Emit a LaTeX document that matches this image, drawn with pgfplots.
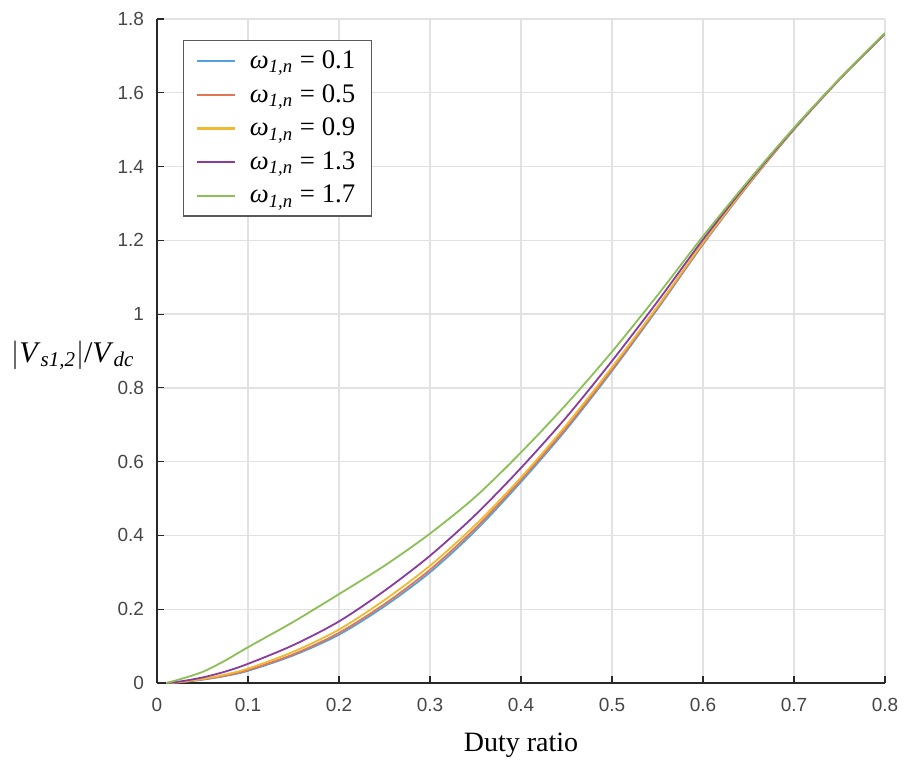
\documentclass[border=0pt]{standalone}
\usepackage{fontspec}
\setmainfont{Liberation Serif}
\setsansfont{Liberation Sans}
\usepackage{pgfplots}
\pgfplotsset{compat=1.18}
\usepackage{pgfplotstable}

\definecolor{cA}{RGB}{85,160,222}
\definecolor{cB}{RGB}{226,118,82}
\definecolor{cC}{RGB}{240,185,50}
\definecolor{cD}{RGB}{138,60,158}
\definecolor{cE}{RGB}{138,192,85}
\definecolor{gridc}{RGB}{226,226,226}
\definecolor{axc}{RGB}{40,40,40}
\definecolor{tickc}{RGB}{70,70,70}

% duty ratio vs. normalised fundamental voltage, one table per frequency
\pgfplotstableread{
d     v
0.01  0
0.025 0.002
0.05  0.009
0.075 0.019
0.1   0.033
0.15  0.075
0.2   0.131
0.25  0.208
0.3   0.300
0.35  0.413
0.4   0.545
0.45  0.688
0.5   0.846
0.55  1.014
0.6   1.189
0.65  1.351
0.7   1.500
0.75  1.636
0.8   1.760
}\wA
\pgfplotstableread{
d     v
0.01  0
0.025 0.002
0.05  0.010
0.075 0.020
0.1   0.035
0.15  0.078
0.2   0.136
0.25  0.214
0.3   0.307
0.35  0.420
0.4   0.551
0.45  0.693
0.5   0.850
0.55  1.017
0.6   1.191
0.65  1.352
0.7   1.501
0.75  1.636
0.8   1.760
}\wB
\pgfplotstableread{
d     v
0.01  0
0.025 0.003
0.05  0.011
0.075 0.023
0.1   0.039
0.15  0.085
0.2   0.145
0.25  0.225
0.3   0.318
0.35  0.429
0.4   0.557
0.45  0.700
0.5   0.856
0.55  1.021
0.6   1.194
0.65  1.354
0.7   1.502
0.75  1.637
0.8   1.760
}\wC
\pgfplotstableread{
d     v
0.01  0
0.025 0.004
0.05  0.015
0.075 0.031
0.1   0.052
0.15  0.103
0.2   0.167
0.25  0.250
0.3   0.345
0.35  0.456
0.4   0.583
0.45  0.721
0.5   0.873
0.55  1.034
0.6   1.202
0.65  1.358
0.7   1.503
0.75  1.637
0.8   1.760
}\wD
\pgfplotstableread{
d     v
0.01  0
0.025 0.010
0.05  0.030
0.075 0.061
0.1   0.097
0.15  0.166
0.2   0.241
0.25  0.318
0.3   0.405
0.35  0.505
0.4   0.625
0.45  0.756
0.5   0.898
0.55  1.051
0.6   1.211
0.65  1.362
0.7   1.505
0.75  1.638
0.8   1.762
}\wE

\newcommand{\wl}[1]{\textit{ω}\textsubscript{\textit{1,n}} = #1}

\begin{document}
\begin{tikzpicture}
\begin{axis}[
  scale only axis,
  width=364pt, height=332pt,
  xmin=0, xmax=0.8, ymin=0, ymax=1.8,
  xtick={0,0.1,...,0.8},
  ytick={0,0.2,...,1.8},
  axis lines*=left,
  axis line style={color=axc, line width=0.7pt},
  tick align=inside,
  major tick length=3.5pt,
  tick style={color=axc, line width=0.6pt},
  grid=major,
  major grid style={color=gridc, line width=0.7pt},
  /pgf/number format/assume math mode=true,
  tick label style={font=\sffamily\fontsize{9.5}{11}\selectfont, color=tickc},
  xticklabel style={yshift=-4pt},
  yticklabel style={xshift=-3pt},
  xlabel={Duty ratio},
  xlabel style={font=\fontsize{14}{16}\selectfont, at={(axis description cs:0.5,0)}, anchor=center, yshift=-31pt},
  ylabel={$|$\textit{V}\textsubscript{\textit{s1,2}}$|$/\textit{V}\textsubscript{\textit{dc}}},
  ylabel style={rotate=-90, font=\fontsize{15}{17}\selectfont, at={(axis description cs:-0.1154,0.494)}, anchor=center},
  legend style={at={(axis description cs:0.0357,0.968)}, anchor=north west,
    draw=black!65, line width=0.6pt, fill=white,
    font=\fontsize{13.4}{16}\selectfont, row sep=2.4pt,
    inner xsep=6pt, inner ysep=3pt,
    /tikz/every odd column/.append style={column sep=5pt}},
  legend cell align=left,
  legend image code/.code={\draw[#1, line width=1.1pt] (0cm,0cm) -- (0.67cm,0cm);},
  every axis plot/.append style={line width=0.9pt},
]
\addplot[cA, smooth] table[x=d, y=v] {\wA};
\addlegendentry{\wl{0.1}}
\addplot[cB, smooth] table[x=d, y=v] {\wB};
\addlegendentry{\wl{0.5}}
\addplot[cC, smooth] table[x=d, y=v] {\wC};
\addlegendentry{\wl{0.9}}
\addplot[cD, smooth] table[x=d, y=v] {\wD};
\addlegendentry{\wl{1.3}}
\addplot[cE, smooth] table[x=d, y=v] {\wE};
\addlegendentry{\wl{1.7}}
\end{axis}
\pgfresetboundingbox
\path[use as bounding box] (-78.5pt,-39.5pt) rectangle (375pt,341.5pt);
\end{tikzpicture}
\end{document}
